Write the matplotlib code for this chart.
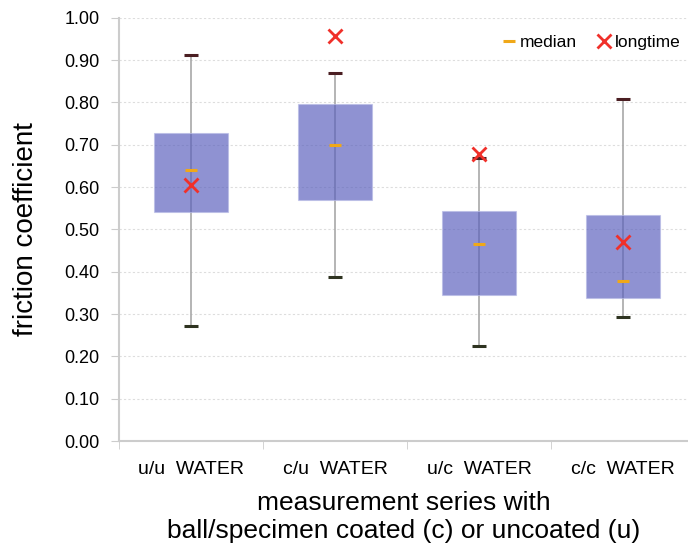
import matplotlib.pyplot as plt
from matplotlib.lines import Line2D
import numpy as np

plt.rcParams['font.family'] = ['Liberation Sans', 'DejaVu Sans']

# data
series = ['u/u  WATER', 'c/u  WATER', 'u/c  WATER', 'c/c  WATER']
q_low = [0.541, 0.570, 0.345, 0.338]
q_high = [0.728, 0.797, 0.544, 0.535]
medians = [0.641, 0.700, 0.466, 0.378]
w_low = [0.272, 0.388, 0.225, 0.293]
w_high = [0.912, 0.870, 0.670, 0.808]
longtime = [0.605, 0.957, 0.678, 0.470]

fig = plt.figure(figsize=(6.88, 5.57), dpi=100)
ax = fig.add_axes([0.173, 0.208, 0.827, 0.760])

x = np.arange(1, len(series) + 1)

# whiskers
ax.vlines(x, w_low, w_high, color='#a8a8a8', lw=1.2, zorder=2)
# boxes
ax.bar(x, np.array(q_high) - np.array(q_low), bottom=q_low, width=0.51,
       color='#5a5fbd', alpha=0.68, edgecolor='#b8bbe6', lw=0.8, zorder=3)
# caps
ax.plot(x, w_high, ls='none', marker='_', ms=10, mew=2.2, color='#4a1e22', zorder=4)
ax.plot(x, w_low, ls='none', marker='_', ms=10, mew=2.2, color='#2e3320', zorder=4)
# median and longtime
ax.plot(x, medians, ls='none', marker='_', ms=9, mew=2.2, color='#f0a818', zorder=5)
ax.plot(x, longtime, ls='none', marker='x', ms=10, mew=2, color='#f0302a', zorder=6)

ax.set_ylim(0, 1.0)
ax.set_xlim(0.5, 4.45)
ax.set_yticks(np.arange(0, 1.01, 0.1))
ax.set_yticklabels([f'{v:.2f}' for v in np.arange(0, 1.01, 0.1)], fontsize=13)
ax.set_xticks(x)
ax.set_xticklabels(series, fontsize=14)
ax.set_xticks([0.5, 1.5, 2.5, 3.5], minor=True)
ax.tick_params(axis='x', which='major', length=0, pad=14)
ax.tick_params(axis='x', which='minor', length=6, color='#cccccc')
ax.tick_params(axis='y', length=6, color='#cccccc', pad=8)

ax.grid(axis='y', ls=(0, (2, 2)), color='#dddddd', lw=0.8)
ax.set_axisbelow(True)
for s in ['top', 'right']:
    ax.spines[s].set_visible(False)
ax.spines['left'].set_color('#cccccc')
ax.spines['bottom'].set_color('#cccccc')
ax.spines['left'].set_linewidth(1.5)
ax.spines['bottom'].set_linewidth(1.5)

ax.set_ylabel('friction coefficient', fontsize=20, labelpad=18)
ax.set_xlabel('measurement series with\nball/specimen coated (c) or uncoated (u)',
              fontsize=19, labelpad=10)

handles = [Line2D([], [], ls='none', marker='_', ms=9, mew=2.2, color='#f0a818'),
           Line2D([], [], ls='none', marker='x', ms=10, mew=2, color='#f0302a')]
ax.legend(handles, ['median', 'longtime'], ncol=2, frameon=False, fontsize=12.5,
          loc='upper right', bbox_to_anchor=(1.005, 0.985), borderaxespad=0.2,
          handlelength=0.8, handletextpad=0.2, columnspacing=1.2)

plt.savefig('out.png', dpi=100)
